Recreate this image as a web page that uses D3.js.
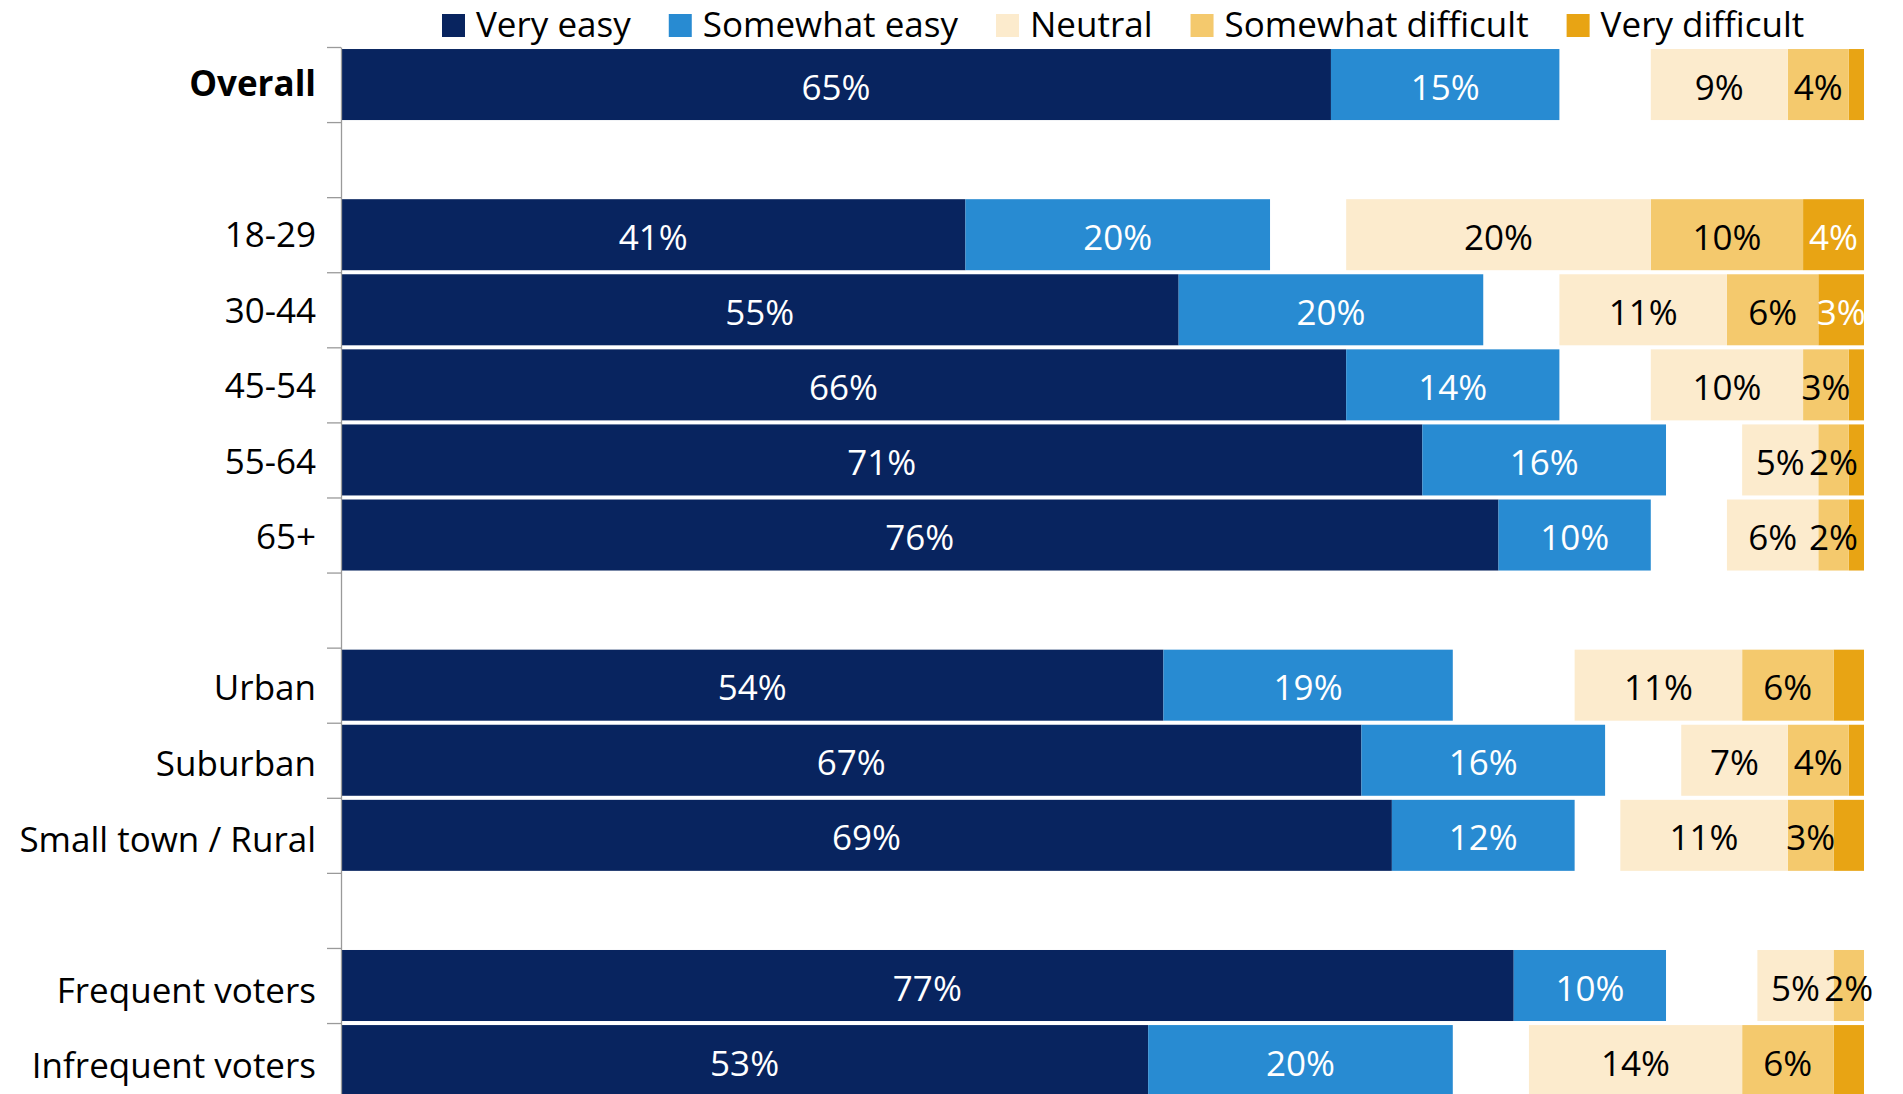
<!DOCTYPE html>
<html>
<head>
<meta charset="utf-8">
<script src="https://cdn.jsdelivr.net/npm/d3@7"></script>
<style>
  html, body { margin: 0; padding: 0; background: #fff; }
  svg { display: block; font-family: "Open Sans", "Noto Sans", sans-serif; }
</style>
</head>
<body>
<svg id="chart" width="1903" height="1094"></svg>
<script>
// Survey rows, top to bottom; a blank row separates each group
const categories = ["Overall", "18-29", "30-44", "45-54", "55-64", "65+",
  "Urban", "Suburban", "Small town / Rural", "Frequent voters", "Infrequent voters"];
const groupEnds = ["Overall", "65+", "Small town / Rural"];
const boldRows = ["Overall"];

// Response shares (%), one value per row
const veryEasy          = [65, 41, 55, 66, 71, 76, 54, 67, 69, 77, 53];
const somewhatEasy      = [15, 20, 20, 14, 16, 10, 19, 16, 12, 10, 20];
const neutral           = [ 9, 20, 11, 10,  5,  6, 11,  7, 11,  5, 14];
const somewhatDifficult = [ 4, 10,  6,  3,  2,  2,  6,  4,  3,  2,  6];
const veryDifficult     = [ 1,  4,  3,  1,  1,  1,  2,  1,  2,  0,  2];

const seriesNames = ["Very easy", "Somewhat easy", "Neutral", "Somewhat difficult", "Very difficult"];
const seriesValues = [veryEasy, somewhatEasy, neutral, somewhatDifficult, veryDifficult];
const colors = ["#08245f", "#288bd2", "#fcebcd", "#f4c96d", "#e8a414"];
const labelColors = ["#ffffff", "#ffffff", "#000000", "#000000", "#ffffff"];
const minLabel = [1, 1, 1, 2, 3];

const svg = d3.select("#chart");
const fontSize = 35;

// Row slots including blank separators
const slots = [];
categories.forEach(c => {
  slots.push(c);
  if (groupEnds.includes(c)) slots.push("__gap" + slots.length);
});

const plotTop = 47, step = 75.08;
const y = d3.scaleBand()
  .domain(slots)
  .range([plotTop, plotTop + step * slots.length])
  .paddingInner(0.054)
  .paddingOuter(0.027);

// Baselines for the row captions (slightly looser spacing than the bars)
const captionY = d3.scaleLinear()
  .domain([0, slots.length - 1])
  .range([96, 96 + 75.55 * (slots.length - 1)]);

const x = d3.scaleLinear().domain([0, 100]).range([341, 1864]);

// Segment extents: agreeable side grows from 0, difficult side ends at 100
const segments = [];
categories.forEach((c, i) => {
  let left = 0;
  [0, 1].forEach(s => {
    const v = seriesValues[s][i];
    segments.push({ row: c, s, v, x0: left, x1: left + v });
    left += v;
  });
  let right = 100;
  [4, 3, 2].forEach(s => {
    const v = seriesValues[s][i];
    segments.push({ row: c, s, v, x0: right - v, x1: right });
    right -= v;
  });
});

const bars = svg.append("g");
bars.selectAll("rect")
  .data(segments.filter(d => d.v > 0))
  .join("rect")
  .attr("x", d => x(d.x0))
  .attr("y", d => y(d.row))
  .attr("width", d => x(d.x1) - x(d.x0))
  .attr("height", y.bandwidth())
  .attr("fill", d => colors[d.s]);

// Value labels
svg.append("g")
  .selectAll("text")
  .data(segments.filter(d => d.v >= minLabel[d.s]))
  .join("text")
  .attr("x", d => (x(d.x0) + x(d.x1)) / 2)
  .attr("y", d => y(d.row) + y.bandwidth() / 2 + 15)
  .attr("text-anchor", "middle")
  .attr("font-size", fontSize)
  .attr("fill", d => labelColors[d.s])
  .text(d => d.v + "%");

// Category axis: ticks sit on the slot boundaries
const slotEdge = d3.scaleLinear().domain([0, slots.length]).range([plotTop, plotTop + step * slots.length]);
const axis = svg.append("g")
  .attr("transform", `translate(${x(0)},0)`)
  .call(d3.axisLeft(slotEdge)
    .tickValues(d3.range(0, slots.length + 1))
    .tickSize(14)
    .tickSizeOuter(0)
    .tickFormat(""));
axis.selectAll("path, line").attr("stroke", "#9a9a9a").attr("stroke-width", 1.3);

svg.append("g")
  .selectAll("text")
  .data(categories)
  .join("text")
  .attr("x", 316)
  .attr("y", d => captionY(slots.indexOf(d)))
  .attr("text-anchor", "end")
  .attr("font-size", fontSize)
  .attr("font-weight", d => boldRows.includes(d) ? 700 : 400)
  .attr("fill", "#000")
  .text(d => d);

// Legend
const legend = svg.append("g");
let lx = 442;
seriesNames.forEach((name, i) => {
  legend.append("rect")
    .attr("x", lx).attr("y", 14)
    .attr("width", 23).attr("height", 23)
    .attr("fill", colors[i]);
  const t = legend.append("text")
    .attr("x", lx + 34).attr("y", 37)
    .attr("font-size", fontSize)
    .attr("fill", "#000")
    .text(name);
  lx += 34 + t.node().getComputedTextLength() + 38;
});
</script>
</body>
</html>
